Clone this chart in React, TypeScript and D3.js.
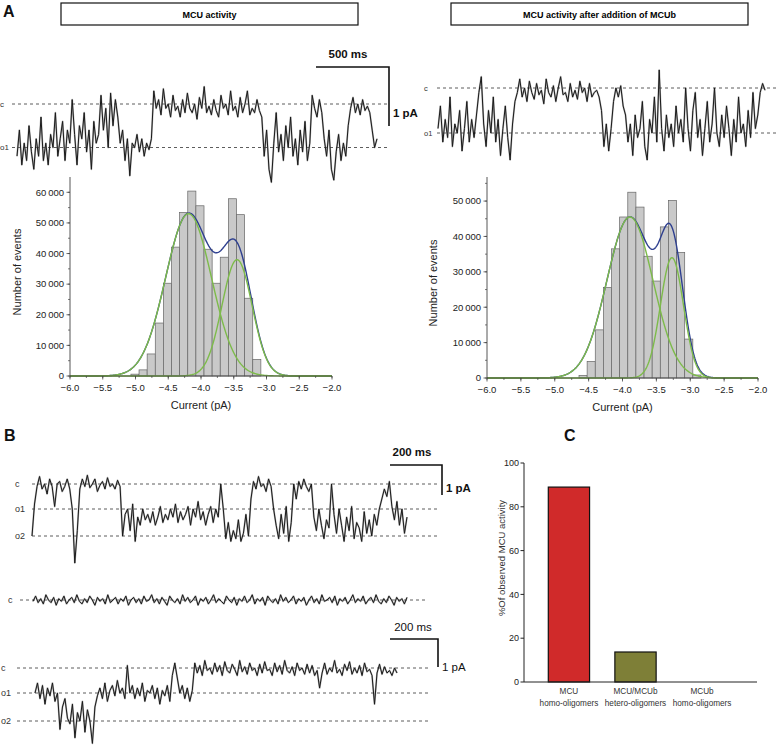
import React from 'react';
import * as d3 from 'd3';

const FONT = "'Liberation Sans', Arial, Helvetica, sans-serif";

// ---------- Panel A : histograms ----------
const X_TICKS = [-6, -5.5, -5, -4.5, -4, -3.5, -3, -2.5, -2];
const LEFT_Y_TICKS = [0, 10000, 20000, 30000, 40000, 50000, 60000];
const RIGHT_Y_TICKS = [0, 10000, 20000, 30000, 40000, 50000];

const LEFT_BIN_START = -5.07;
const LEFT_BIN_WIDTH = 0.124;
const LEFT_COUNTS = [600, 2000, 7200, 17300, 30300, 42100, 53400, 60400, 55600, 41400, 30300, 38800, 57900, 52700, 25400, 5400];
const LEFT_FIT = [
  { mean: -4.19, sd: 0.35, amp: 53000 },
  { mean: -3.45, sd: 0.23, amp: 38000 },
];

const RIGHT_BIN_START = -4.642;
const RIGHT_BIN_WIDTH = 0.12;
const RIGHT_COUNTS = [750, 4700, 13600, 25600, 36500, 45500, 52500, 48300, 34400, 27400, 42700, 50200, 35500, 11000, 850];
const RIGHT_FIT = [
  { mean: -3.89, sd: 0.34, amp: 45500 },
  { mean: -3.27, sd: 0.17, amp: 34000 },
];

// ---------- Panel A : traces (levels: 0 = c, 1 = o1, 2 = o2) ----------
const TRACE_A_MCU = [
  1.2, 0.6, 1.4, 0.9, 1.3, 0.5, 1.1, 1.5, 0.8, 1.2, 0.3, 1.3, 0.9, 1.4, 0.7, 1.0, 0.2, 1.2,
  0.8, 0.4, 1.3, 0.6, 0.9, -0.1, 0.7, 1.4, 0.5, 0.8, 0.2, 1.1, 0.6, 1.5, 0.4, 0.9, 0.7,
  -0.2, 0.6, 0.1, 1.0, -0.25, 0.5, -0.1,
  0.3, 0.9, 0.6, 1.3, 0.8, 1.65, 0.9,
  1.0, 0.7, 1.1, 0.8, 1.2, 0.9, 1.05, 0.8,
  -0.3, 0.1, -0.1, 0.25, -0.35, 0.1, 0.0, 0.3, -0.2, 0.15, 0.05, 0.3, -0.1, 0.2, -0.25, 0.1, 0.2, 0.0, 0.35, -0.15, 0.1, -0.4, 0.2, 0.05, 0.25, -0.1, 0.15, 0.3, -0.2, 0.1, 0.0, 0.25, -0.3, 0.15, 0.05, 0.3, -0.15, 0.2, 0.0, -0.3, 0.25, 0.1, 0.2, -0.1, 0.15,
  0.3, 1.2, 0.6, 1.5, 1.8, 0.9, 0.2, 1.1, 0.7, 1.3, 0.5, 1.0, 0.3, 1.2, 0.8, 1.4, 0.6, 1.1, 0.4, 1.3, 0.9,
  -0.2, 0.1, 0.3, -0.1, 0.2,
  0.8, 1.2, 0.6, 1.5, 1.75, 1.1, 0.7, 1.3, 0.9, 1.2, 0.5,
  0.1, -0.15, 0.2, 0.0, 0.25, -0.1, 0.15, 0.05, 0.2,
  0.6, 1.0, 0.8,
];

const TRACE_A_MCUB = [
  0.9, 0.4, 1.2, 0.7, 1.1, 0.2, 1.3, 0.8, 1.0, 0.5, 1.4, 0.9, 0.3, 1.2, 0.7, 1.1, 0.6, 0.1, -0.25, 0.8, 1.3, 0.5, 1.0, 0.2, 1.2, 0.7, 1.5, 0.9, 0.4, 1.1, 1.6, 0.8, 0.3,
  0.1, -0.2, 0.2, 0.0, 0.3, -0.15, 0.1, 0.25, -0.1, 0.15, 0.05, 0.35, -0.2, 0.1, 0.2, -0.05, 0.3, 0.0, -0.25, 0.15, 0.1, 0.3, -0.1, 0.2, 0.05, 0.25, -0.15, 0.1, 0.0, 0.3, -0.1, 0.2, 0.1, 0.05, 0.2,
  0.5, 1.3, 0.8, 1.4, 0.9,
  0.3, 0.0, 0.2, -0.05, 0.4, 0.6,
  1.2, 0.8, 1.5, 0.6, 1.1, 0.9, 0.3, 1.3, 1.6, 0.7, 1.0, 0.2, 1.2, -0.4, 0.9, 1.4, 0.6, 1.1, 0.8, 1.3, 0.4, 1.0, 0.7, 1.2, 0.0, 0.9, 1.4, 0.5, 0.1, 1.1, 0.7, 1.5, 0.9, 0.3, 1.2, 0.8, 0.0, 1.0, 1.3, 0.6, 1.1, 0.4, 0.9, 1.5, 0.7, 1.2, 0.2, 1.0, 0.8, 1.3, 0.5, 1.1, 0.1, 0.9, 0.6,
  0.1, -0.1, 0.05,
];

// ---------- Panel B : traces ----------
const TRACE_B1 = [
  2.0, 0.8,
  0.1, -0.3, 0.2, 0.0, 0.4, -0.2, 0.1, 0.9, 0.0, -0.1, 0.3, 0.1, -0.2, 0.2,
  1.0, 3.0, 1.8,
  0.2, -0.2, 0.1, -0.35, 0.15, 0.0, -0.2, 0.3, 0.05, -0.1, 0.2, -0.25, 0.1, 0.0, 0.2, -0.15, 0.1,
  2.0, 1.2,
  1.0, 1.8, 0.8, 2.2, 1.3, 1.6, 1.0, 1.4, 1.2, 1.5, 1.1, 1.6, 1.3, 0.9, 1.5, 1.2, 1.4, 1.0, 1.3, 0.8, 1.5, 1.1, 1.4, 1.2, 0.9, 1.6, 1.0, 1.3, 0.7, 1.4, 1.1, 1.6, 1.2, 0.9, 1.5, 1.0, 1.3,
  0.0, 1.0, 2.1, 1.5, 2.2,
  1.8, 2.1, 1.4, 2.2, 1.9, 1.2, 2.0, 0.6,
  -0.1, 0.2, -0.3, 0.1, 0.0, 0.3, -0.2, 0.1,
  1.0, 1.6, 2.1, 1.2, 1.9, 0.9, 2.2, 1.5,
  0.0, 0.6, -0.1,
  0.2, -0.2, 0.1, 0.3, 0.0,
  1.3, 1.8, 1.0, 1.6, 2.1, 1.4, 1.7,
  0.0,
  1.2, 1.9, 1.0, 1.6, 2.2, 1.3, 1.8, 0.9, 2.1, 1.5, 1.7, 2.2, 1.1, 1.9, 1.4, 2.0, 1.2, 1.6,
  1.0, 0.6, 0.2, 0.5, -0.1,
  0.9, 1.4, 0.7, 1.6, 1.0, 1.9, 1.3,
];

const TRACE_B2 = [
  0.05, -0.15, 0.1, -0.05, 0.15, -0.2, 0.0, 0.1, -0.1, 0.2, -0.05, 0.05, -0.15, 0.15, 0.0, -0.1, 0.1, -0.2, 0.05, 0.15, -0.05, 0.1, -0.15, 0.0, 0.2, -0.1, 0.05, -0.05, 0.15, -0.2, 0.1, 0.0, -0.1, 0.15, -0.05, 0.05, -0.15, 0.2, 0.0, -0.1,
  0.1, -0.05, 0.15, -0.15, 0.05, 0.0, -0.2, 0.1, -0.05, 0.15, -0.1, 0.05, 0.2, -0.15, 0.0, 0.1, -0.05, 0.15, -0.2, 0.05, -0.1, 0.1, 0.0, -0.15, 0.2, -0.05, 0.05, -0.1, 0.15, 0.0, -0.2, 0.1, -0.05, 0.05, 0.15, -0.15, 0.0, 0.1, -0.1, 0.2,
  -0.05, 0.05, -0.15, 0.1, 0.0, -0.2, 0.15, -0.05, 0.05, -0.1, 0.2, -0.15, 0.0, 0.1, -0.05, 0.15, -0.2, 0.05, -0.1, 0.1, 0.0, -0.15, 0.15, -0.05, 0.05, -0.1, 0.2, 0.0, -0.15, 0.1, -0.05, 0.15, -0.2, 0.05, 0.0, -0.1,
  0.1, -0.15, 0.2, -0.05, 0.05, -0.1, 0.15, 0.0, -0.2, 0.1, -0.05, 0.05, -0.15, 0.15, 0.0, -0.1, 0.1, -0.2, 0.05, 0.15, -0.05, 0.1, -0.15, 0.0, 0.2, -0.1, 0.05, -0.05, 0.15, -0.1,
];

const TRACE_B3 = [
  1.0, 0.6, 1.2, 0.7, 1.4, 0.8, 1.1, 0.6, 1.3,
  1.0, 2.3, 1.5, 1.2, 1.9, 2.1, 1.4, 2.6, 1.7, 2.0, 1.3, 2.4, 1.6, 2.0, 2.8, 1.5, 1.1,
  0.8, 1.2, 0.6, 1.3, 0.9, 0.7, 1.1, 0.5, 1.0, 0.8, 1.2,
  -0.1,
  1.0, 0.7, 1.2, 0.8, 1.1, 0.6, 1.3, 0.9, 1.0, 0.7, 1.2, 0.8, 1.4, 0.9, 1.1, 0.7, 1.3,
  0.3, -0.2, 0.4,
  1.0, 0.7, 1.2, 0.8, 1.3, 0.9,
  -0.2, 0.2, -0.1, 0.3, -0.3, 0.1, 0.0, 0.25, -0.2, 0.15, -0.1, 0.3, -0.25, 0.1, 0.2, -0.15, 0.05, 0.3, -0.3, 0.15, -0.05, 0.25, -0.2, 0.1, 0.0, 0.3, -0.15, 0.2, -0.25, 0.1, 0.05, 0.3, -0.2, 0.15, -0.1, 0.25, -0.3, 0.1, 0.2, -0.05, 0.3, -0.2, 0.1, 0.0, 0.25, -0.15, 0.2, -0.1, 0.3, 0.1, 0.8, 0.2, -0.2, 0.25, 0.0, 0.15, -0.3, 0.2, 0.05, 0.3, -0.15, 0.1, -0.25, 0.25, 0.0, 0.2, -0.1, 0.3, -0.2, 0.15, 0.05, 0.3, 1.4, 0.2, -0.15, 0.25, -0.05, 0.2, 0.1, 0.3, 0.0, 0.2,
];

// ---------- Panel C ----------
const C_CATEGORIES = [
  ['MCU', 'homo-oligomers'],
  ['MCU/MCUb', 'hetero-oligomers'],
  ['MCUb', 'homo-oligomers'],
];
const C_VALUES = [89, 13.7, 0];
const C_COLORS = ['#d02a2a', '#7e7f37', '#888'];
const C_Y_TICKS = [0, 20, 40, 60, 80, 100];

type Fit = { mean: number; sd: number; amp: number };

const fmtThousands = (v: number) => d3.format(',')(v).replace(/,/g, '\u2009');
const fmtX = (v: number) => d3.format('.1f')(v).replace('-', '\u2212');

function Histogram(props: {
  counts: number[]; binStart: number; binWidth: number; fit: Fit[];
  x0: number; x1: number; yBase: number; yTop: number; yMax: number; yTicks: number[];
  yLabelX: number; yLabelY: number; xLabelY: number;
}) {
  const { counts, binStart, binWidth, fit, x0, x1, yBase, yTop, yMax, yTicks } = props;
  const x = d3.scaleLinear().domain([-6, -2]).range([x0, x1]);
  const y = d3.scaleLinear().domain([0, yMax]).range([yBase, yTop]);
  const gauss = (g: Fit, v: number) => g.amp * Math.exp(-((v - g.mean) ** 2) / (2 * g.sd * g.sd));
  const grid = d3.range(0, 401).map((i) => -6 + i * 0.01);
  const line = d3.line<[number, number]>().x((d) => x(d[0])).y((d) => y(d[1]));
  const sumPath = line(grid.map((v) => [v, fit.reduce((s, g) => s + gauss(g, v), 0)] as [number, number]));
  const minorX = d3.range(-6, -1.99, 0.25);
  const minorY = d3.range(0, yMax, 5000);
  return (
    <g fontFamily={FONT}>
      {counts.map((c, i) => {
        const xl = x(binStart + i * binWidth);
        const xr = x(binStart + (i + 1) * binWidth);
        return (
          <rect key={i} x={xl} y={y(c)} width={xr - xl} height={yBase - y(c)}
            fill="#c9c9c9" stroke="#666" strokeWidth={0.7} />
        );
      })}
      <path d={sumPath || ''} fill="none" stroke="#2e3f8f" strokeWidth={1.4} />
      {fit.map((g, k) => (
        <path key={k} d={line(grid.map((v) => [v, gauss(g, v)] as [number, number])) || ''}
          fill="none" stroke="#7dbb4a" strokeWidth={1.4} />
      ))}
      {/* axes */}
      <line x1={x0} x2={x0} y1={yBase} y2={yTop} stroke="#444" strokeWidth={0.9} />
      <line x1={x0} x2={x1} y1={yBase} y2={yBase} stroke="#444" strokeWidth={0.9} />
      {minorY.map((v) => (
        <line key={'my' + v} x1={x0 - 2} x2={x0} y1={y(v)} y2={y(v)} stroke="#444" strokeWidth={0.7} />
      ))}
      {yTicks.map((v) => (
        <g key={'y' + v}>
          <line x1={x0 - 3.5} x2={x0} y1={y(v)} y2={y(v)} stroke="#444" strokeWidth={0.8} />
          <text x={x0 - 6} y={y(v)} dy="0.35em" textAnchor="end" fontSize={9.5} fill="#222">
            {fmtThousands(v)}
          </text>
        </g>
      ))}
      {minorX.map((v) => (
        <line key={'mx' + v} x1={x(v)} x2={x(v)} y1={yBase} y2={yBase + 2} stroke="#444" strokeWidth={0.7} />
      ))}
      {X_TICKS.map((v) => (
        <g key={'x' + v}>
          <line x1={x(v)} x2={x(v)} y1={yBase} y2={yBase + 3.5} stroke="#444" strokeWidth={0.8} />
          <text x={x(v)} y={yBase + 15} textAnchor="middle" fontSize={9.5} fill="#222">
            {fmtX(v)}
          </text>
        </g>
      ))}
      <text x={(x0 + x1) / 2} y={props.xLabelY} textAnchor="middle" fontSize={11} fill="#222">
        Current (pA)
      </text>
      <text transform={`translate(${props.yLabelX},${props.yLabelY}) rotate(-90)`} textAnchor="middle"
        fontSize={11} fill="#222">
        Number of events
      </text>
    </g>
  );
}

function Trace(props: {
  data: number[]; x0: number; x1: number; levelsY: number[]; dashed: number;
  lineX0: number; lineX1: number; labels: string[]; labelX: number; labelSize: number;
}) {
  const { data, x0, x1, levelsY, dashed, lineX0, lineX1, labels, labelX, labelSize } = props;
  const x = d3.scaleLinear().domain([0, data.length - 1]).range([x0, x1]);
  const y = d3.scaleLinear().domain(levelsY.map((_, i) => i)).range(levelsY);
  const path = d3.line<number>().x((_, i) => x(i)).y((d) => y(d))(data) || '';
  return (
    <g fontFamily={FONT}>
      {levelsY.slice(0, dashed).map((ly, i) => (
        <line key={i} x1={lineX0} x2={lineX1} y1={ly} y2={ly} stroke="#333" strokeWidth={0.8} strokeDasharray="3,3" />
      ))}
      {labels.map((lab, i) => (
        <text key={lab} x={labelX} y={levelsY[i]} dy="0.35em" fontSize={labelSize} fill="#333">{lab}</text>
      ))}
      <path d={path} fill="none" stroke="#777" strokeWidth={1.8} strokeLinejoin="round" opacity={0.55} />
      <path d={path} fill="none" stroke="#1a1a1a" strokeWidth={1.0} strokeLinejoin="round" />
    </g>
  );
}

function ScaleBar(props: { x0: number; x1: number; y0: number; y1: number; timeLabel: string; ampLabel: string; bold: boolean; tx: number; ty: number; ax: number; ay: number; }) {
  const { x0, x1, y0, y1, bold } = props;
  return (
    <g fontFamily={FONT} fill="#111">
      <path d={`M${x0},${y0} H${x1} V${y1}`} fill="none" stroke="#111" strokeWidth={1.6} />
      <text x={props.tx} y={props.ty} textAnchor="middle" fontSize={11.5} fontWeight={bold ? 'bold' : 'normal'}>{props.timeLabel}</text>
      <text x={props.ax} y={props.ay} fontSize={11.5} fontWeight={bold ? 'bold' : 'normal'}>{props.ampLabel}</text>
    </g>
  );
}

function BarPanel() {
  const x = d3.scaleBand<number>().domain(C_VALUES.map((_, i) => i)).range([523, 748]).padding(0.38);
  const y = d3.scaleLinear().domain([0, 100]).range([682, 463]);
  const axX = 524;
  return (
    <g fontFamily={FONT}>
      {C_VALUES.map((v, i) => (
        v > 0 ? (
          <rect key={i} x={x(i)} y={y(v)} width={x.bandwidth()} height={y(0) - y(v)}
            fill={C_COLORS[i]} stroke="#111" strokeWidth={1.2} />
        ) : null
      ))}
      <line x1={axX} x2={axX} y1={y(0)} y2={y(100)} stroke="#222" strokeWidth={1} />
      <line x1={axX} x2={757} y1={y(0)} y2={y(0)} stroke="#222" strokeWidth={1} />
      {C_Y_TICKS.map((t) => (
        <g key={t}>
          <line x1={axX - 3.5} x2={axX} y1={y(t)} y2={y(t)} stroke="#222" strokeWidth={1} />
          <text x={axX - 5} y={y(t)} dy="0.35em" textAnchor="end" fontSize={9} fill="#222">{t}</text>
        </g>
      ))}
      {C_CATEGORIES.map((lines, i) => (
        <text key={i} x={(x(i) || 0) + x.bandwidth() / 2} y={694} textAnchor="middle" fontSize={8.2} fill="#333">
          {lines.map((l, k) => (
            <tspan key={k} x={(x(i) || 0) + x.bandwidth() / 2} dy={k === 0 ? 0 : 11.5}>{l}</tspan>
          ))}
        </text>
      ))}
      <text transform="translate(505,558) rotate(-90)" textAnchor="middle" fontSize={9.5} fill="#333">
        %Of observed MCU activity
      </text>
    </g>
  );
}

export default function App() {
  return (
    <svg width={777} height={746} viewBox="0 0 777 746"
      style={{ position: 'absolute', left: 0, top: 0, background: '#fff', display: 'block' }}>
      <rect x={0} y={0} width={777} height={746} fill="#fff" />
      {/* panel letters */}
      <g fontFamily={FONT} fontWeight="bold" fill="#111">
        <text x={3} y={17} fontSize={16}>A</text>
        <text x={4} y={441} fontSize={16}>B</text>
        <text x={564} y={441} fontSize={16}>C</text>
      </g>
      {/* title boxes */}
      <g fontFamily={FONT}>
        <rect x={61} y={3} width={297} height={22} fill="#fff" stroke="#111" strokeWidth={1.2} />
        <text x={209.5} y={17.5} textAnchor="middle" fontSize={9} fontWeight="bold">MCU activity</text>
        <rect x={451} y={3} width={297} height={22} fill="#fff" stroke="#111" strokeWidth={1.2} />
        <text x={599.5} y={17.5} textAnchor="middle" fontSize={9} fontWeight="bold">MCU activity after addition of MCUb</text>
      </g>

      {/* Panel A traces */}
      <Trace data={TRACE_A_MCU} x0={17} x1={377} levelsY={[104, 147.5]} dashed={2}
        lineX0={12} lineX1={388} labels={['c', 'o1']} labelX={0} labelSize={8} />
      <ScaleBar x0={316} x1={389} y0={67} y1={126} timeLabel="500 ms" ampLabel="1 pA" bold
        tx={348} ty={58} ax={393} ay={117} />
      <Trace data={TRACE_A_MCUB} x0={438} x1={765} levelsY={[88, 133]} dashed={2}
        lineX0={437} lineX1={777} labels={['c', 'o1']} labelX={424} labelSize={7.5} />

      {/* Panel A histograms */}
      <Histogram counts={LEFT_COUNTS} binStart={LEFT_BIN_START} binWidth={LEFT_BIN_WIDTH} fit={LEFT_FIT}
        x0={70} x1={332} yBase={376} yTop={177} yMax={65000} yTicks={LEFT_Y_TICKS}
        yLabelX={21} yLabelY={272} xLabelY={409} />
      <Histogram counts={RIGHT_COUNTS} binStart={RIGHT_BIN_START} binWidth={RIGHT_BIN_WIDTH} fit={RIGHT_FIT}
        x0={487} x1={758} yBase={378} yTop={177} yMax={56800} yTicks={RIGHT_Y_TICKS}
        yLabelX={437} yLabelY={283} xLabelY={411} />

      {/* Panel B traces */}
      <ScaleBar x0={390} x1={442} y0={465} y1={495} timeLabel="200 ms" ampLabel="1 pA" bold
        tx={412} ty={456} ax={446} ay={492} />
      <Trace data={TRACE_B1} x0={32} x1={407} levelsY={[484, 509, 536]} dashed={3}
        lineX0={32} lineX1={437} labels={['c', 'o1', 'o2']} labelX={15} labelSize={9} />
      <Trace data={TRACE_B2} x0={33} x1={407} levelsY={[600, 626]} dashed={1}
        lineX0={20} lineX1={427} labels={['c']} labelX={8} labelSize={9} />
      <ScaleBar x0={390} x1={438} y0={639} y1={667} timeLabel="200 ms" ampLabel="1 pA" bold={false}
        tx={413} ty={631} ax={442} ay={671} />
      <Trace data={TRACE_B3} x0={35} x1={397} levelsY={[668, 693, 721]} dashed={3}
        lineX0={17} lineX1={428} labels={['c', 'o1', 'o2']} labelX={1} labelSize={9} />

      {/* Panel C */}
      <BarPanel />
    </svg>
  );
}
